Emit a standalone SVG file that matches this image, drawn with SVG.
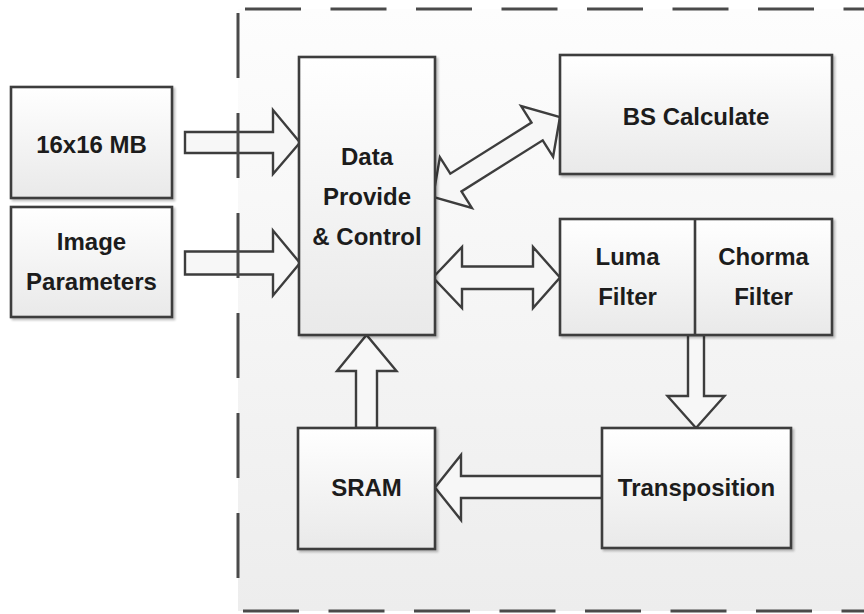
<svg xmlns="http://www.w3.org/2000/svg" width="864" height="614" viewBox="0 0 864 614">
<defs>
<linearGradient id="bg" x1="0" y1="0" x2="0" y2="1">
<stop offset="0" stop-color="#fdfdfd"/>
<stop offset="1" stop-color="#ededed"/>
</linearGradient>
<linearGradient id="boxg" x1="0" y1="0" x2="0" y2="1">
<stop offset="0" stop-color="#ffffff"/>
<stop offset="1" stop-color="#e9e9e9"/>
</linearGradient>
<filter id="sh" x="-10%" y="-10%" width="120%" height="120%">
<feGaussianBlur in="SourceAlpha" stdDeviation="1.2"/>
<feOffset dx="1.5" dy="1.5" result="o"/>
<feComponentTransfer><feFuncA type="linear" slope="0.25"/></feComponentTransfer>
<feMerge><feMergeNode/><feMergeNode in="SourceGraphic"/></feMerge>
</filter>
</defs>
<style>
.box{fill:url(#boxg);stroke:#3d3d3d;stroke-width:2.6;filter:url(#sh)}
.arr{fill:#f7f7f7;stroke:#3d3d3d;stroke-width:2.4;stroke-linejoin:miter}
.dash{stroke:#4a4a4a;stroke-width:3;fill:none}
text{font-family:"Liberation Sans",Arial,sans-serif;font-weight:bold;font-size:24px;fill:#1c1c1c;text-anchor:middle}
</style>
<rect x="0" y="0" width="864" height="614" fill="#ffffff"/>
<rect x="238" y="9" width="640" height="602" fill="url(#bg)"/>
<g id="connectors">
<path class="arr" d="M185,132 H273 V110 L300,142.5 L273,174 V153 H185 Z"/>
<path class="arr" d="M185,251.5 H273 V230.5 L300,263 L273,295.5 V274.5 H185 Z"/>
<path class="arr" d="M433,277.5 L462,247 V266.5 H533 V247 L560,277.5 L533,308 V289 H462 V308 Z"/>
<g transform="translate(496.5,157) rotate(-32.2)">
<path class="arr" d="M-75,0 L-48,-30 V-10.5 H48 V-30 L75,0 L48,30 V10.5 H-48 V30 Z"/>
</g>
<path class="arr" d="M688,335 H704 V396 H724.5 L696,428 L667.5,396 H688 Z"/>
<path class="arr" d="M356,428 V371 H337 L366.5,335 L396.5,371 H377 V428 Z"/>
<path class="arr" d="M602,476 H461 V455 L435,487.5 L461,520 V498 H602 Z"/>
</g>
<g id="frame">
<line class="dash" x1="245" y1="9" x2="870" y2="9" stroke-dasharray="56 29.5"/>
<line class="dash" x1="238" y1="13" x2="238" y2="580" stroke-dasharray="65 35"/>
<line class="dash" x1="243" y1="611" x2="870" y2="611" stroke-dasharray="56 29.5"/>
</g>
<g id="mb">
<rect class="box" x="11" y="87" width="161" height="111"/>
<text x="91.5" y="153">16x16 MB</text>
</g>
<g id="params">
<rect class="box" x="11" y="207" width="161" height="110"/>
<text x="91.5" y="250">Image</text>
<text x="91.5" y="290">Parameters</text>
</g>
<g id="dpc">
<rect class="box" x="299" y="57" width="136" height="278"/>
<text x="367" y="165">Data</text>
<text x="367" y="205">Provide</text>
<text x="367" y="245">&amp; Control</text>
</g>
<g id="bs">
<rect class="box" x="560" y="55" width="272" height="119"/>
<text x="696" y="125">BS Calculate</text>
</g>
<g id="filters">
<rect class="box" x="560" y="219" width="272" height="116"/>
<line x1="695" y1="219" x2="695" y2="335" stroke="#3d3d3d" stroke-width="2.6"/>
<text x="627.5" y="265">Luma</text>
<text x="627.5" y="305">Filter</text>
<text x="763.5" y="265">Chorma</text>
<text x="763.5" y="305">Filter</text>
</g>
<g id="sram">
<rect class="box" x="298" y="428" width="137" height="121"/>
<text x="366.5" y="496">SRAM</text>
</g>
<g id="transposition">
<rect class="box" x="602" y="428" width="189" height="120"/>
<text x="696.5" y="496">Transposition</text>
</g>
</svg>
